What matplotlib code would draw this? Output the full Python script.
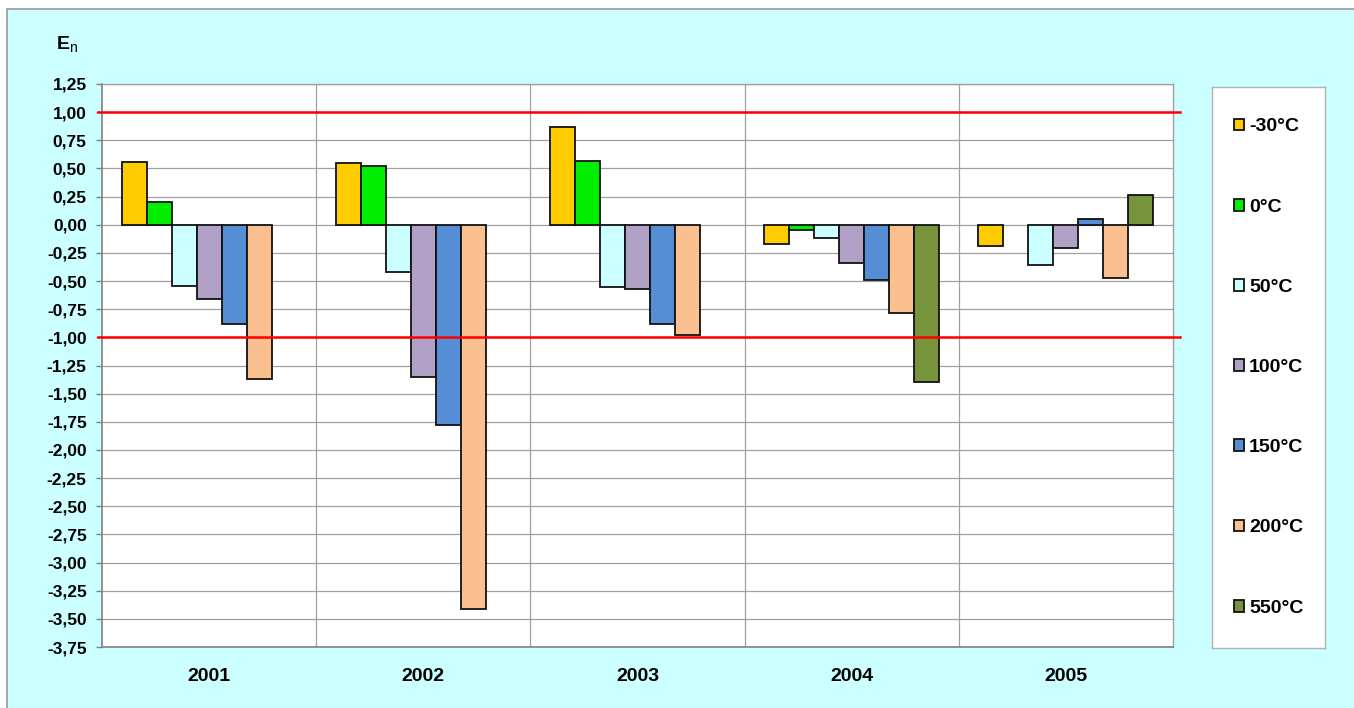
import numpy as np
import matplotlib.pyplot as plt
from matplotlib.patches import Rectangle

plt.rcParams['font.family'] = ['Liberation Sans', 'DejaVu Sans']

years = ['2001', '2002', '2003', '2004', '2005']
temps = ['-30°C', '0°C', '50°C', '100°C', '150°C', '200°C', '550°C']
colors = ['#FFCC00', '#00EE00', '#CCFFFF', '#B2A1C7', '#558ED5', '#FAC090', '#77933C']

# En values per temperature, one entry per year (nan = not measured)
en_m30 = [0.56, 0.55, 0.87, -0.17, -0.19]
en_0 = [0.20, 0.52, 0.57, -0.05, np.nan]
en_50 = [-0.54, -0.42, -0.55, -0.12, -0.36]
en_100 = [-0.66, -1.35, -0.57, -0.34, -0.21]
en_150 = [-0.88, -1.78, -0.88, -0.49, 0.05]
en_200 = [-1.37, -3.41, -0.98, -0.78, -0.47]
en_550 = [np.nan, np.nan, np.nan, -1.40, 0.26]
series = [en_m30, en_0, en_50, en_100, en_150, en_200, en_550]

limits = [1.0, -1.0]
yticks = np.arange(-3.75, 1.26, 0.25)

fig = plt.figure(figsize=(13.54, 7.08), dpi=100)
fig.patch.set_facecolor('white')
# cyan chart area with grey frame
fig.patches.append(Rectangle((7 / 1354, -0.05), 1.1, 1 - 9 / 708 + 0.05,
                             transform=fig.transFigure, facecolor='#CCFFFF',
                             edgecolor='#999999', linewidth=1.2, zorder=-10))

ax = fig.add_axes([102 / 1354, 1 - 647 / 708, (1173 - 102) / 1354, (647 - 84) / 708])
ax.set_facecolor('white')

xpos = np.arange(len(years))
w = 25 / 214
handles = []
for i, vals in enumerate(series):
    b = ax.bar(xpos + (i - 3) * w, vals, width=w, color=colors[i],
               edgecolor='#111111', linewidth=1.3, zorder=3, label=temps[i])
    handles.append(b)

for lim in limits:
    ax.plot([-0.52, 4.535], [lim, lim], color='red', linewidth=1.8,
            clip_on=False, zorder=4)

ax.set_xlim(-0.5, 4.5)
ax.set_ylim(-3.75, 1.25)
ax.set_yticks(yticks)
ax.set_yticklabels([f'{v:.2f}'.replace('.', ',') for v in yticks],
                   fontsize=12.5, fontweight='bold')
ax.set_xticks(xpos)
ax.set_xticklabels(years, fontsize=14, fontweight='bold')
ax.tick_params(axis='x', length=0, pad=15)
ax.tick_params(axis='y', length=4, width=1, color='#808080', pad=7)

for x in np.arange(0.5, 4.5, 1.0):
    ax.axvline(x, color='#A0A0A0', linewidth=0.9, zorder=1)
ax.yaxis.grid(True, color='#A0A0A0', linewidth=0.9, zorder=1)
ax.set_axisbelow(True)
for s in ['left', 'bottom']:
    ax.spines[s].set_color('#808080')
    ax.spines[s].set_linewidth(1.2)
for s in ['top', 'right']:
    ax.spines[s].set_color('#A0A0A0')
    ax.spines[s].set_linewidth(1.0)

fig.text(57 / 1354, 1 - 49 / 708, 'E', fontsize=14, fontweight='bold', ha='left', va='baseline')
fig.text(69.5 / 1354, 1 - 52 / 708, 'n', fontsize=10, ha='left', va='baseline')

# legend box
lax = fig.add_axes([1212 / 1354, 1 - 648 / 708, (1325 - 1212) / 1354, (648 - 87) / 708])
lax.set_xticks([])
lax.set_yticks([])
lax.set_facecolor('white')
for s in lax.spines.values():
    s.set_color('#B0B0B0')
    s.set_linewidth(1.0)
lax.legend(handles=handles, labels=temps, loc='center', frameon=False,
           prop={'size': 14, 'weight': 'bold'}, handlelength=0.55, handleheight=0.55,
           handletextpad=0.25, labelspacing=3.25, borderaxespad=0)

fig.savefig('out.png', dpi=100)
